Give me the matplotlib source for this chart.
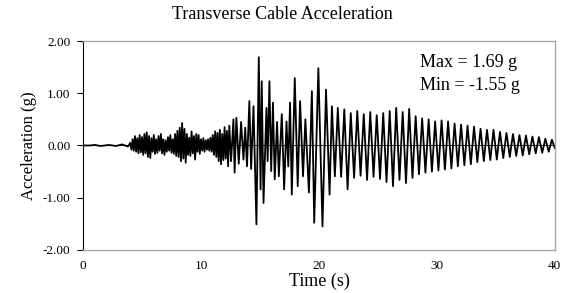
import numpy as np
import matplotlib
matplotlib.use("Agg")
import matplotlib.pyplot as plt

# peak-to-peak readings of the record (time in s, acceleration in g)
t_quiet = [0.0, 0.6, 1.0, 1.5, 2.2, 2.8, 3.3, 3.8]
a_quiet = [0.0, 0.0, 0.01, -0.01, 0.01, -0.01, 0.02, -0.02]

t_build = [4.0, 4.1, 4.2, 4.3, 4.4, 4.5, 4.6, 4.7, 4.8, 4.9,
           5.0, 5.1, 5.2, 5.3, 5.4, 5.5, 5.6, 5.7, 5.8, 5.9,
           6.0, 6.1, 6.2, 6.3, 6.4, 6.5, 6.6, 6.7, 6.8, 6.9,
           7.0, 7.1, 7.2, 7.3, 7.4, 7.5, 7.6, 7.7, 7.8, 7.9,
           8.0, 8.1, 8.2, 8.3, 8.4, 8.5, 8.6, 8.7, 8.8, 8.9,
           9.0, 9.1, 9.2, 9.3, 9.4, 9.5, 9.6, 9.7, 9.8, 9.9,
           10.0, 10.1, 10.2, 10.3, 10.4, 10.5, 10.6, 10.7, 10.8, 10.9,
           11.0, 11.1, 11.2, 11.3, 11.4, 11.5, 11.6, 11.7, 11.8, 11.9,
           12.0, 12.1, 12.2, 12.3, 12.4]
a_build = [0.05, -0.08, 0.12, -0.10, 0.18, -0.12, 0.14, -0.15, 0.20, -0.13,
           0.16, -0.18, 0.22, -0.15, 0.25, -0.22, 0.18, -0.24, 0.14, -0.12,
           0.20, -0.16, 0.12, -0.14, 0.18, -0.10, 0.22, -0.15, 0.12, -0.18,
           0.10, -0.12, 0.16, -0.10, 0.20, -0.14, 0.12, -0.16, 0.22, -0.20,
           0.28, -0.22, 0.34, -0.30, 0.43, -0.25, 0.32, -0.33, 0.22, -0.18,
           0.15, -0.20, 0.27, -0.15, 0.18, -0.27, 0.22, -0.12, 0.20, -0.16,
           0.12, -0.10, 0.14, -0.12, 0.10, -0.08, 0.12, -0.10, 0.15, -0.12,
           0.20, -0.18, 0.27, -0.22, 0.24, -0.30, 0.30, -0.36, 0.22, -0.28,
           0.35, -0.25, 0.28, -0.40, 0.38]

t_strong = [12.55, 12.75, 12.85, 13.0, 13.2, 13.4, 13.6, 13.75, 13.9, 14.1,
            14.25, 14.45, 14.7, 14.9, 15.05, 15.15, 15.3, 15.55, 15.65, 15.8,
            15.95, 16.1, 16.25, 16.45, 16.6, 16.85, 17.05, 17.25, 17.4, 17.55,
            17.7, 17.95, 18.2, 18.4, 18.65, 18.85, 19.15, 19.4, 19.6, 19.95,
            20.3, 20.6, 20.9, 21.1, 21.35]
a_strong = [-0.30, 0.50, -0.52, 0.53, -0.35, 0.45, -0.27, 0.34, -0.40, 0.85,
            -0.45, 0.75, -1.51, 1.69, -0.84, 1.23, -1.10, 0.72, -0.30, 1.23,
            -0.49, 0.82, -0.65, 0.45, -0.59, 0.60, -0.84, 0.46, -0.40, 0.82,
            -0.94, 1.29, -0.78, 0.85, -0.59, 0.50, -0.90, 1.04, -1.48, 1.48,
            -1.55, 1.07, -0.94, 0.75, -0.59]

t_decay = [21.6, 21.88, 22.15, 22.43, 22.7, 22.98, 23.25, 23.53, 23.8, 24.08,
           24.35, 24.63, 24.9, 25.18, 25.45, 25.73, 26.0, 26.28, 26.55, 26.83,
           27.1, 27.38, 27.65, 27.93, 28.2, 28.48, 28.75, 29.03, 29.3, 29.58,
           29.85, 30.13, 30.4, 30.68, 30.95, 31.23, 31.5, 31.78, 32.05, 32.33,
           32.6, 32.88, 33.15, 33.43, 33.7, 33.98, 34.25, 34.53, 34.8, 35.08,
           35.35, 35.63, 35.9, 36.18, 36.45, 36.73, 37.0, 37.28, 37.55, 37.83,
           38.1, 38.38, 38.65, 38.93, 39.2, 39.48, 39.75, 40.0]
a_decay = [0.72, -0.60, 0.69, -0.84, 0.62, -0.62, 0.66, -0.58, 0.60, -0.66,
           0.64, -0.60, 0.58, -0.64, 0.62, -0.70, 0.66, -0.78, 0.72, -0.66,
           0.64, -0.72, 0.70, -0.62, 0.56, -0.55, 0.52, -0.52, 0.50, -0.50,
           0.46, -0.48, 0.48, -0.46, 0.46, -0.44, 0.42, -0.40, 0.40, -0.38,
           0.38, -0.36, 0.36, -0.32, 0.32, -0.30, 0.30, -0.28, 0.30, -0.27,
           0.26, -0.24, 0.24, -0.22, 0.22, -0.20, 0.20, -0.19, 0.19, -0.17,
           0.17, -0.15, 0.16, -0.14, 0.13, -0.12, 0.11, -0.05]

y_ticks = [-2.0, -1.0, 0.0, 1.0, 2.0]
x_ticks = [0, 10, 20, 30, 40]

t = np.array(t_quiet + t_build + t_strong + t_decay)
a = np.array(a_quiet + a_build + a_strong + a_decay)

plt.rcParams['font.family'] = ['Liberation Serif', 'DejaVu Serif']

fig = plt.figure(figsize=(5.65, 2.93), dpi=100)
ax = fig.add_axes([0.147, 0.147, 0.835, 0.713])

ax.axhline(0, color='#333333', lw=0.7, zorder=1)
ax.plot(t, a, color='black', lw=1.3, zorder=2)

ax.set_xlim(0, 40)
ax.set_ylim(-2, 2)
ax.set_yticks(y_ticks)
ax.set_yticklabels([f"{v:.2f}" for v in y_ticks])
ax.set_xticks(x_ticks)
ax.tick_params(axis='y', direction='out', length=4, width=0.8, labelsize=9.5, pad=5)
ax.tick_params(axis='x', length=0, labelsize=9.5, pad=7)

for side in ['top', 'right', 'bottom']:
    ax.spines[side].set_color('#a6a6a6')
    ax.spines[side].set_linewidth(1.0)
ax.spines['left'].set_color('black')
ax.spines['left'].set_linewidth(0.8)

ax.set_xlabel('Time (s)', fontsize=13, labelpad=1)
ax.set_ylabel('Acceleration (g)', fontsize=12, labelpad=4)

fig.text(0.5, 0.95, 'Transverse Cable Acceleration', ha='center', va='center', fontsize=13)

ax.text(0.715, 0.895, 'Max = 1.69 g', transform=ax.transAxes, fontsize=13, va='center')
ax.text(0.715, 0.785, 'Min = -1.55 g', transform=ax.transAxes, fontsize=13, va='center')

fig.savefig('out.png', dpi=100)
